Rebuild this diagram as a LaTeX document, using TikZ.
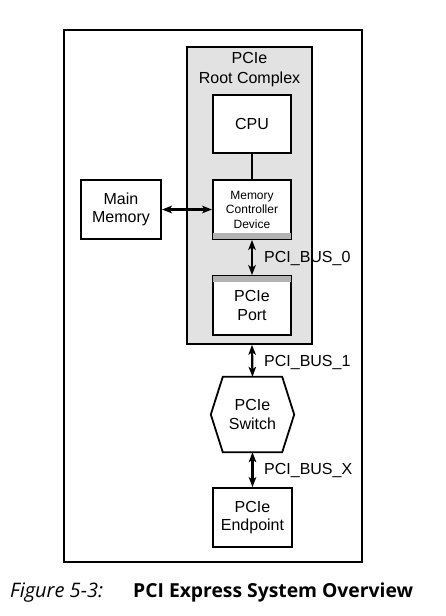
\documentclass[tikz,border=0pt]{standalone}
\usepackage{fontspec}
\setmainfont{Liberation Sans}
\newfontfamily\capfont{Open Sans}
\usetikzlibrary{arrows.meta}
\definecolor{rcgray}{RGB}{226,226,226}
\definecolor{bargray}{RGB}{178,178,178}
\tikzset{
  blk/.style={draw,line width=1.8pt,fill=white,minimum width=78pt,minimum height=59pt,
    inner sep=0pt,align=center,font=\fontsize{16}{18.5}\selectfont},
  bus/.style={line width=2.2pt,{Stealth[length=10pt,width=7.5pt,inset=2.5pt]}-{Stealth[length=10pt,width=7.5pt,inset=2.5pt]}},
  buslbl/.style={anchor=west,inner sep=0pt,font=\fontsize{16}{18.5}\selectfont}
}
\begin{document}
\begin{tikzpicture}[x=1pt,y=-1pt]
        \useasboundingbox (0,0) rectangle (446,616);
        % frame and root complex
        \node (frame) [draw,line width=1.6pt,minimum width=298pt,minimum height=532pt] at (213,296) {};
        \node (RC) [draw,line width=1.6pt,fill=rcgray,minimum width=125pt,minimum height=297pt] at (249.5,195.5) {};
        \node (RCT) [align=center,inner sep=0pt,font=\fontsize{16}{20}\selectfont] at (249.5,70) {PCIe\\Root Complex};

        % blocks
        \node (CPU) [blk,minimum height=58pt] at (252,124)    {CPU};
        \node (MC)  [blk,font=\fontsize{12}{14.5}\selectfont] at (252,209.5) {Memory\\Controller\\Device};
        \node (PORT) [blk] at (252,305.5)  {PCIe\\Port};
        \node (MM)  [blk,minimum width=80pt] at (121,209.5)  {Main\\Memory};
        \node (EP)  [blk,minimum width=79pt] at (252.5,517.5) {PCIe\\Endpoint};
        \node (SW)  [minimum width=83pt,minimum height=75pt,inner sep=0pt,align=center,
                     font=\fontsize{16}{18.5}\selectfont] at (252.5,414.5) {PCIe\\Switch};

        % gray bars
        \fill[bargray] ([shift={(0.9pt,0.9pt)}]MC.south west) rectangle ([shift={(-0.9pt,6.5pt)}]MC.south east);
        \fill[bargray] ([shift={(0.9pt,-0.9pt)}]PORT.north west) rectangle ([shift={(-0.9pt,-6.5pt)}]PORT.north east);

        % switch outline
        \draw[line width=1.8pt,line join=miter] (SW.west) -- ([xshift=12pt]SW.north west)
          -- ([xshift=-12pt]SW.north east) -- (SW.east)
          -- ([xshift=-12pt]SW.south east) -- ([xshift=12pt]SW.south west) -- cycle;

        % links
        \draw[line width=1.6pt] (CPU) -- (MC);
        \draw[bus] (MM) -- (MC);
        \draw[bus] (MC) -- (PORT);
        \draw[bus] (RC) -- (SW.north);
        \draw[bus] (SW.south) -- (EP);

        % bus labels
        \node (B0) [buslbl] at (264,258) {PCI\_BUS\_0};
        \node (B1) [buslbl] at (264,362) {PCI\_BUS\_1};
        \node (BX) [buslbl] at (264,470) {PCI\_BUS\_X};

        % caption
        \node (FIG) [anchor=base west,inner sep=0pt,font=\capfont\itshape\fontsize{20}{24}\selectfont] at (10,597) {Figure 5-3:};
        \node (CAP) [anchor=base west,inner sep=0pt,font=\capfont\bfseries\fontsize{19.3}{24}\selectfont] at (133,597) {PCI Express System Overview};
    \end{tikzpicture}
\end{document}
